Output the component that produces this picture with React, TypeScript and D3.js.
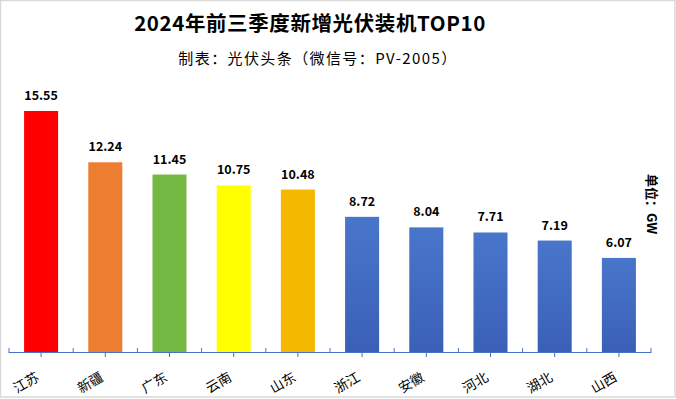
import { useEffect } from "react";
import * as d3 from "d3";

const provinces = ["江苏", "新疆", "广东", "云南", "山东", "浙江", "安徽", "河北", "湖北", "山西"];
const capacity = [15.55, 12.24, 11.45, 10.75, 10.48, 8.72, 8.04, 7.71, 7.19, 6.07];
const barColors = ["#FF0000", "#ED7D31", "#74B944", "#FFFF00", "#F4B800", "blue", "blue", "blue", "blue", "blue"];

const W = 676;
const H = 399;
const left = 9;
const right = 651;
const baseY = 352;

const App = () => {
  useEffect(() => {
    document.body.style.margin = "0";
  }, []);

  const x = d3.scaleBand().domain(provinces).range([left, right]).paddingInner(0.47).paddingOuter(0.235);
  const y = d3.scaleLinear().domain([0, 18]).range([baseY, baseY - 18 * 15.5]);
  const bounds = d3.range(provinces.length + 1).map((i) => left + (i * (right - left)) / provinces.length);
  const cjk = "'Noto Sans CJK SC', 'Microsoft YaHei', sans-serif";

  return (
    <svg width={W} height={H} style={{ display: "block", fontFamily: cjk }}>
      <defs>
        <linearGradient id="blueGrad" x1="0" y1="0" x2="0" y2="1">
          <stop offset="0%" stopColor="#4876CB" />
          <stop offset="100%" stopColor="#3A60B6" />
        </linearGradient>
      </defs>
      <rect x={0} y={0} width={W} height={H} fill="#fff" />
      <rect x={0.5} y={0.5} width={W - 1.5} height={H - 2.5} fill="none" stroke="#d9d9d9" strokeWidth={1.5} />

      <text x={310} y={31} textAnchor="middle" fontSize={20.5} fontWeight="bold" letterSpacing={0.6} fill="#000">
        2024年前三季度新增光伏装机TOP10
      </text>
      <text x={318} y={64} textAnchor="middle" fontSize={15} letterSpacing={1.4} fill="#000">
        制表：光伏头条（微信号：PV-2005）
      </text>

      {provinces.map((p, i) => (
        <g key={p}>
          <rect
            x={x(p)}
            y={y(capacity[i])}
            width={x.bandwidth()}
            height={baseY - y(capacity[i])}
            fill={barColors[i] === "blue" ? "url(#blueGrad)" : barColors[i]}
          />
          <text
            x={x(p)! + x.bandwidth() / 2}
            y={y(capacity[i]) - 11}
            textAnchor="middle"
            fontSize={12.5}
            fontWeight="bold"
            fill="#000"
          >
            {capacity[i].toFixed(2)}
          </text>
          <text
            transform={`translate(${x(p)! + x.bandwidth() / 2 - 1},${380}) rotate(-30)`}
            textAnchor="end"
            fontSize={13.5}
            fill="#000"
          >
            {p}
          </text>
        </g>
      ))}

      <line x1={left} x2={right} y1={baseY + 0.5} y2={baseY + 0.5} stroke="#4472C4" strokeWidth={1.2} />
      {bounds.map((b, i) => (
        <line key={"b" + i} x1={b} x2={b} y1={baseY - 4} y2={baseY + 1} stroke="#4472C4" strokeWidth={1} />
      ))}
      {provinces.map((p) => (
        <line
          key={"c" + p}
          x1={x(p)! + x.bandwidth() / 2}
          x2={x(p)! + x.bandwidth() / 2}
          y1={baseY}
          y2={baseY + 5}
          stroke="#4472C4"
          strokeWidth={1}
        />
      ))}

      <text transform={`translate(647,204) rotate(90)`} textAnchor="middle" fontSize={13} fontWeight="bold" fill="#000">
        单位：GW
      </text>
    </svg>
  );
};

export default App;
